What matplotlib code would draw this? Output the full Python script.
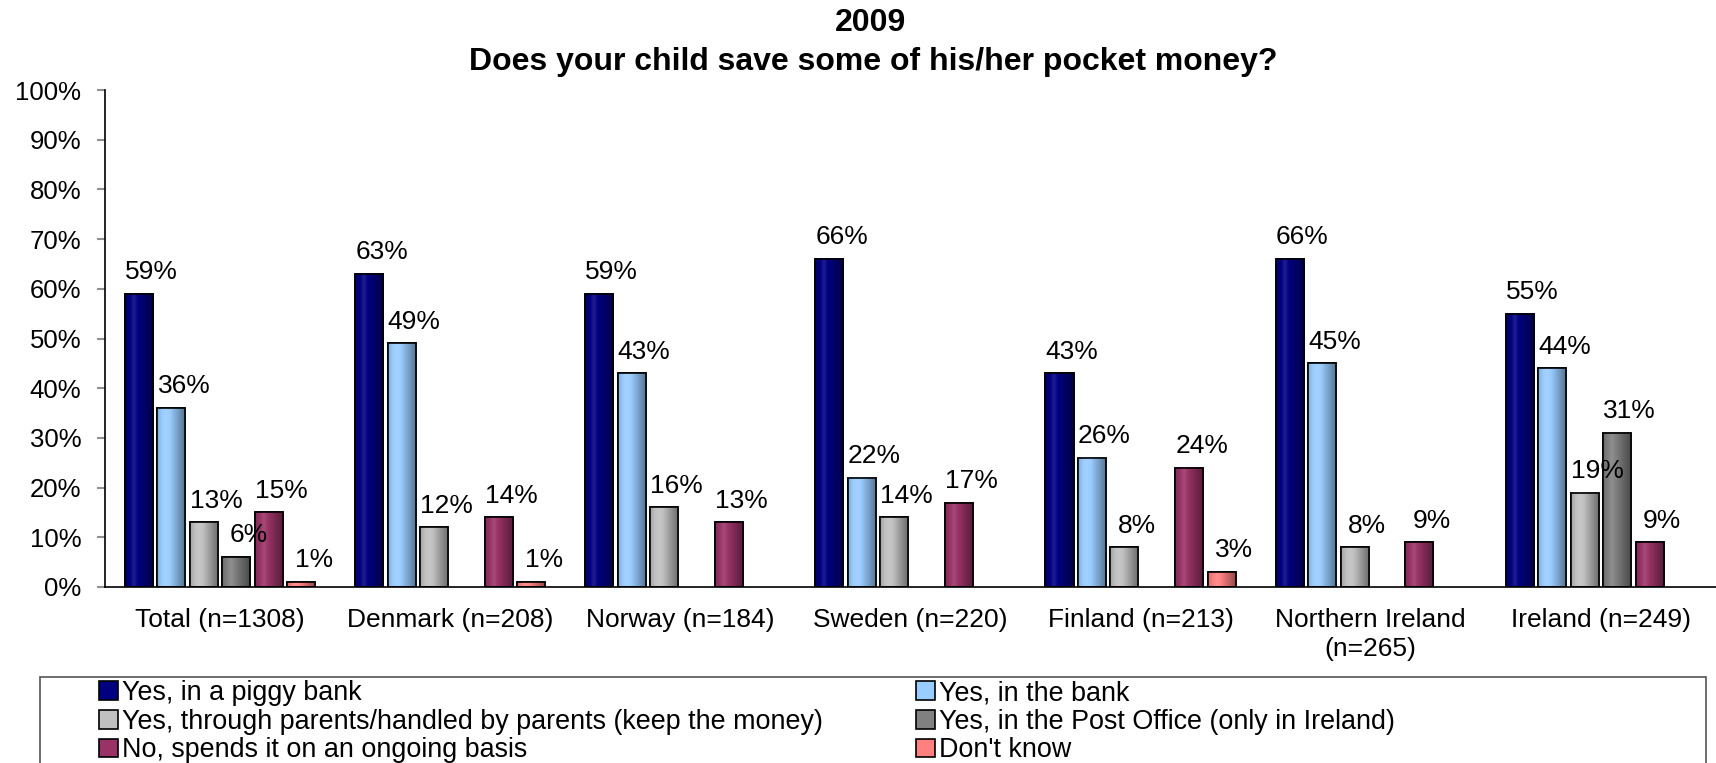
import numpy as np
import matplotlib.pyplot as plt
from matplotlib.colors import to_rgb
from matplotlib.patches import Rectangle

plt.rcParams['font.family'] = ['Liberation Sans', 'DejaVu Sans']

countries = ['Total (n=1308)', 'Denmark (n=208)', 'Norway (n=184)', 'Sweden (n=220)',
             'Finland (n=213)', 'Northern Ireland\n(n=265)', 'Ireland (n=249)']
answers = ['Yes, in a piggy bank',
           'Yes, in the bank',
           'Yes, through parents/handled by parents (keep the money)',
           'Yes, in the Post Office (only in Ireland)',
           'No, spends it on an ongoing basis',
           "Don't know"]
piggy_bank = [59, 63, 59, 66, 43, 66, 55]
bank = [36, 49, 43, 22, 26, 45, 44]
parents = [13, 12, 16, 14, 8, 8, 19]
post_office = [6, None, None, None, None, None, 31]
spends = [15, 14, 13, 17, 24, 9, 9]
dont_know = [1, 1, None, None, 3, None, None]
colors = ['#000080', '#99CCFF', '#C0C0C0', '#808080', '#993366', '#FF8080']

series = [piggy_bank, bank, parents, post_office, spends, dont_know]


def shade(base, n=40):
    # horizontal light/dark ramp used to give the bars a rounded look
    t = np.linspace(0, 1, n)
    f = np.interp(t, [0, 0.3, 1], [0.85, 1.12, 0.55])
    c = np.array(to_rgb(base))
    rows = []
    for v in f:
        if v < 1:
            rows.append(c * v)
        else:
            rows.append(c + (1 - c) * (v - 1))
    return np.array(rows)[None, :, :]


fig = plt.figure(figsize=(17.16, 7.63), dpi=100)
ax = fig.add_axes([105 / 1716, 176 / 763, 1611 / 1716, 497 / 763])

pitch = 0.141
width = 0.122
handles = []
for i, (vals, name, col) in enumerate(zip(series, answers, colors)):
    xs = [g + (i - 2.5) * pitch for g, v in enumerate(vals) if v is not None]
    hs = [v for v in vals if v is not None]
    bars = ax.bar(xs, hs, width, color=col, edgecolor='black', linewidth=1.2,
                  zorder=2, label=name)
    handles.append(bars)
    img = shade(col)
    for x, h in zip(xs, hs):
        ax.imshow(img, extent=(x - width / 2, x + width / 2, 0, h),
                  aspect='auto', zorder=2.5, interpolation='bilinear')
        ax.annotate(f'{h}%', (x, h), xytext=(9, 7), textcoords='offset points',
                    ha='center', va='bottom', fontsize=19, zorder=5)
    ax.bar(xs, hs, width, fill=False, edgecolor='black', linewidth=1.2, zorder=3)

ax.set_xlim(-0.5, len(countries) - 0.5)
ax.set_ylim(0, 100)
ax.set_yticks(range(0, 101, 10))
ax.set_yticklabels([f'{v}%' for v in range(0, 101, 10)], fontsize=18.5)
ax.set_xticks(range(len(countries)))
ax.set_xticklabels(countries, fontsize=19, linespacing=1.25)
ax.tick_params(axis='y', length=6, color='#909090', pad=11, width=1.5)
ax.tick_params(axis='x', length=0, pad=15)
for s in ['top', 'right']:
    ax.spines[s].set_visible(False)
ax.spines['left'].set_linewidth(1.2)
ax.spines['bottom'].set_linewidth(1.2)

fig.text(871 / 1716, 1 - 23 / 763, '2009', ha='center', va='center',
         fontsize=23, fontweight='bold')
fig.text(873 / 1716, 1 - 62 / 763, 'Does your child save some of his/her pocket money?',
         ha='center', va='center', fontsize=23, fontweight='bold')

# legend frame spanning the width, two columns of entries inside it
fig.patches.append(Rectangle((40 / 1716, -0.05), 1666 / 1716, 0.05 + 86 / 763,
                             transform=fig.transFigure, fill=False,
                             edgecolor='#555555', linewidth=1.2))
opts = dict(loc='upper left', frameon=False, fontsize=19.4, borderpad=0,
            borderaxespad=0, handlelength=0.7, handleheight=0.7,
            handletextpad=0.15, labelspacing=0.1)
fig.legend(handles[0::2], answers[0::2],
           bbox_to_anchor=(99 / 1716, 1 - 680 / 763), **opts)
fig.legend(handles[1::2], answers[1::2],
           bbox_to_anchor=(916 / 1716, 1 - 680 / 763), **opts)

fig.savefig('out.png', dpi=100)
